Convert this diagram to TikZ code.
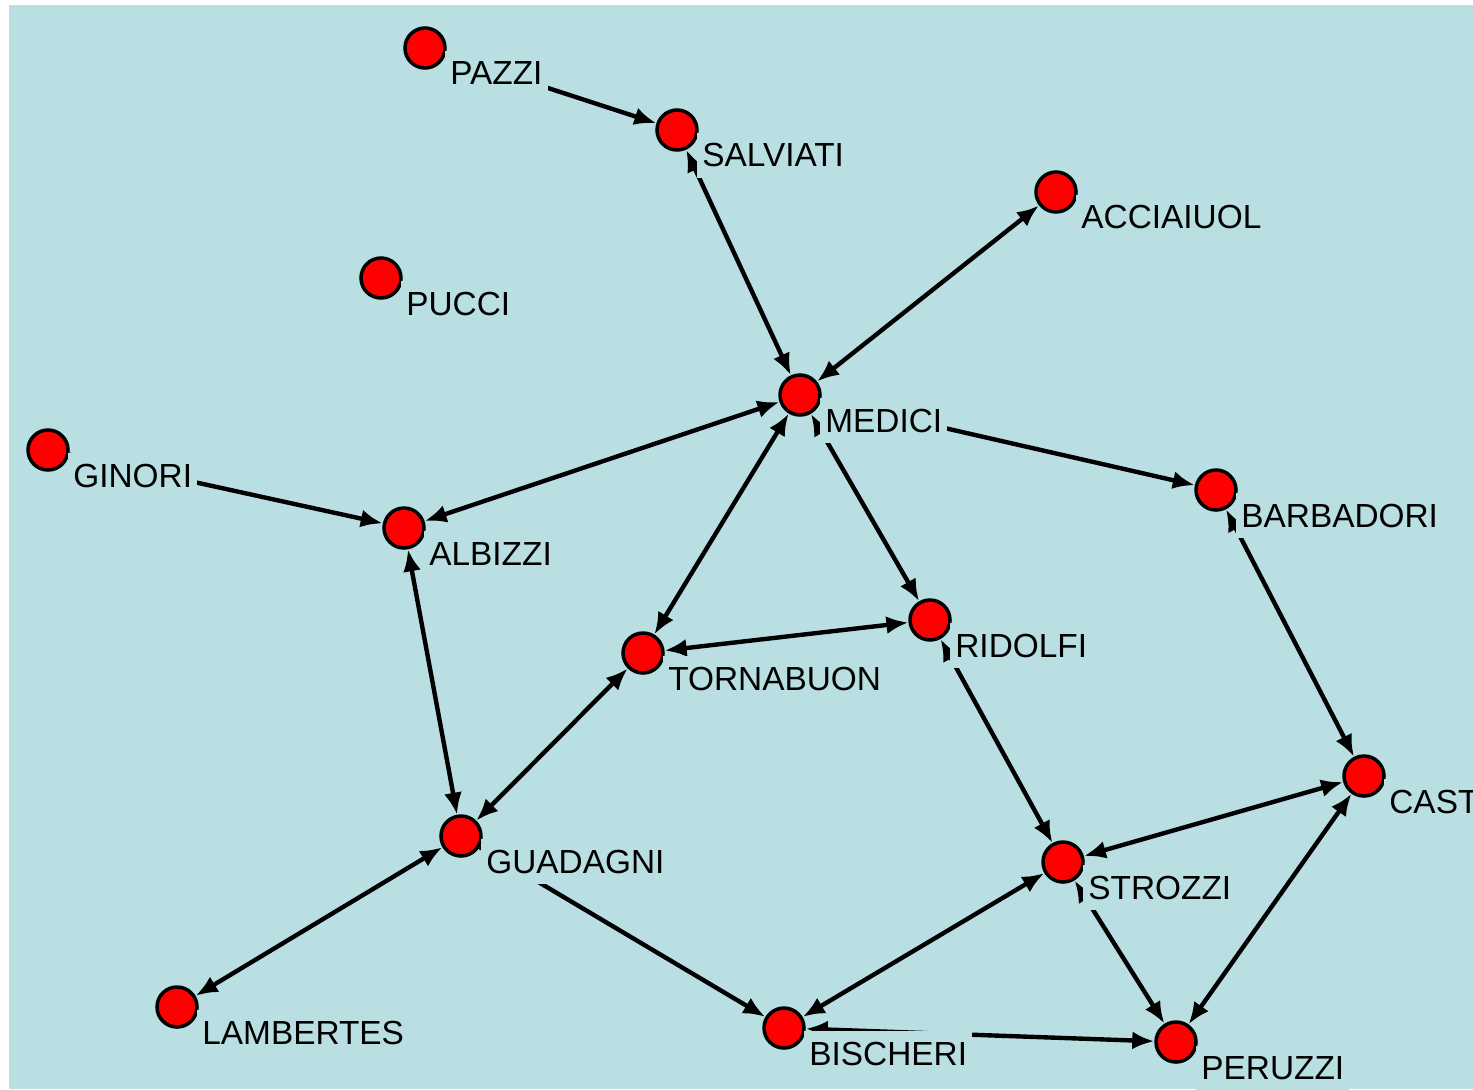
\documentclass[tikz,border=0pt]{standalone}
\usepackage{fontspec}
\setmainfont{Liberation Sans}
\usetikzlibrary{arrows.meta}
\definecolor{netbg}{RGB}{185,223,226}

\begin{document}
\begin{tikzpicture}
  [x=0.02cm,y=-0.02cm,
   fam/.style={circle,draw=black,line width=2pt,fill=red,minimum size=0.8cm,inner sep=0pt},
   tie/.style={line width=2.5pt,>={Latex[length=0.44cm,width=0.36cm]}},
   lab/.style={fill=netbg,inner xsep=3pt,inner ysep=6pt,anchor=base west,
     xshift=0.395cm,yshift=-0.74cm,font=\fontsize{19}{22}\selectfont}]

  \useasboundingbox (0,0) rectangle (1473,1089);
  \clip (0,0) rectangle (1473,1089);
  \fill[netbg] (9,5) rectangle (1473,1089);

  \node[fam] (pazzi) at (425,48) {};
  \node[fam] (salviati) at (677,130) {};
  \node[fam] (acciaiuol) at (1056,192) {};
  \node[fam] (pucci) at (381,278) {};
  \node[fam] (medici) at (800,395) {};
  \node[fam] (ginori) at (48,450) {};
  \node[fam] (albizzi) at (404,528) {};
  \node[fam] (barbadori) at (1216,490) {};
  \node[fam] (ridolfi) at (930,620) {};
  \node[fam] (tornabuon) at (643,653) {};
  \node[fam] (castellan) at (1364,776) {};
  \node[fam] (guadagni) at (461,836) {};
  \node[fam] (strozzi) at (1063,862) {};
  \node[fam] (lambertes) at (177,1007) {};
  \node[fam] (bischeri) at (784,1028) {};
  \node[fam] (peruzzi) at (1176,1042) {};

  \foreach \from/\to in {salviati/medici,acciaiuol/medici,medici/albizzi,medici/tornabuon,
      medici/ridolfi,tornabuon/ridolfi,albizzi/guadagni,tornabuon/guadagni,ridolfi/strozzi,
      barbadori/castellan,castellan/strozzi,castellan/peruzzi,strozzi/peruzzi,
      strozzi/bischeri,guadagni/lambertes,bischeri/peruzzi}
    \draw[tie,<->] (\from) -- (\to);
  \foreach \from/\to in {pazzi/salviati,ginori/albizzi,medici/barbadori,guadagni/bischeri}
    \draw[tie,->] (\from) -- (\to);

  \foreach \n/\t in {pazzi/PAZZI,salviati/SALVIATI,acciaiuol/ACCIAIUOL,pucci/PUCCI,
      medici/MEDICI,ginori/GINORI,albizzi/ALBIZZI,barbadori/BARBADORI,ridolfi/RIDOLFI,
      tornabuon/TORNABUON,castellan/CAST,guadagni/GUADAGNI,strozzi/STROZZI,
      lambertes/LAMBERTES,bischeri/BISCHERI,peruzzi/PERUZZI}
    \node[lab] (\n-l) at (\n) {\t};
\end{tikzpicture}
\end{document}
